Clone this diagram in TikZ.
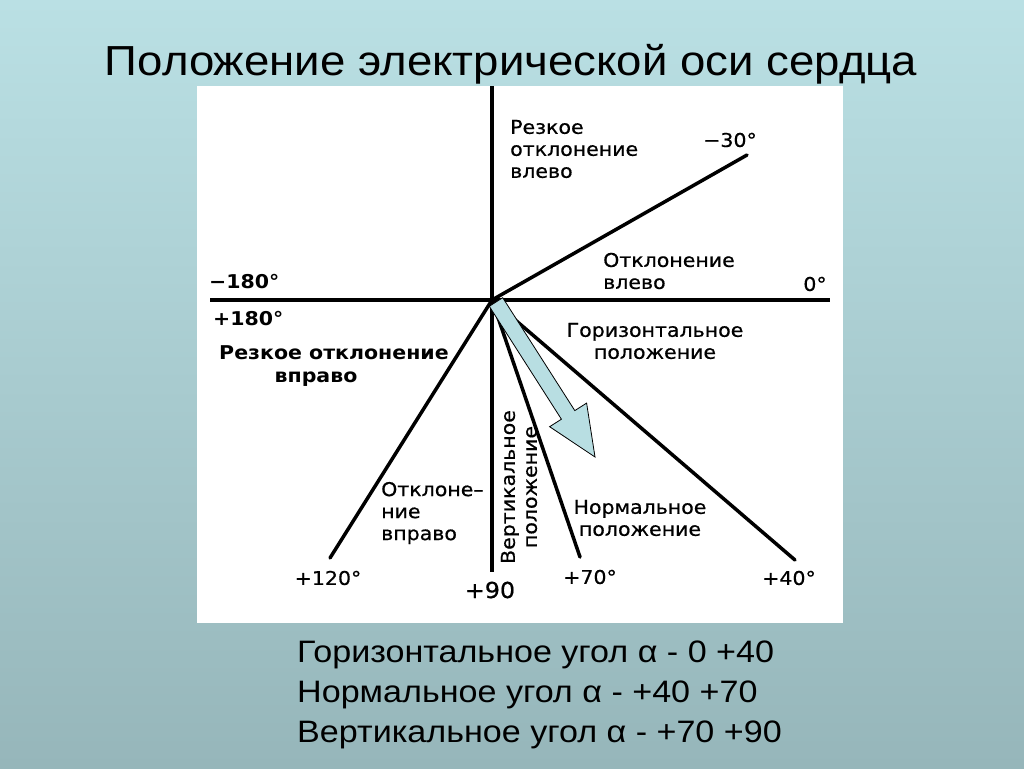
\documentclass[tikz,border=0pt]{standalone}
\usepackage{fontspec}
\setmainfont{Liberation Sans}
\newfontfamily\labfont[FakeStretch=1.08,FakeBold=0.6]{DejaVu Sans}
\newfontfamily\labboldfont[FakeStretch=1.08]{DejaVu Sans Bold}
\newfontfamily\titlefont[FakeStretch=1.085]{Liberation Sans}
\newfontfamily\bottomfont[FakeStretch=1.1]{Liberation Sans}
\definecolor{bgtop}{RGB}{186,224,228}
\definecolor{bgbot}{RGB}{150,182,186}
\definecolor{arrowfill}{RGB}{184,222,226}
\begin{document}
\begin{tikzpicture}[x=1pt,y=-1pt,
  axis/.style={line width=4pt},
  ray/.style={line width=3.5pt,line cap=round},
  lab/.style={inner sep=0pt,font=\labfont\fontsize{19}{22}\selectfont},
  labb/.style={inner sep=0pt,font=\labboldfont\fontsize{19}{23}\selectfont},
  num/.style={inner sep=0pt,font=\labfont\fontsize{19}{22}\selectfont},
  bignum/.style={inner sep=0pt,font=\labboldfont\fontsize{19}{22}\selectfont},
  bottomline/.style={inner sep=0pt,anchor=base west,font=\bottomfont\fontsize{31}{36}\selectfont}]
\useasboundingbox (0,0) rectangle (1024,768);
\shade[top color=bgtop,bottom color=bgbot] (0,0) rectangle (1024,768);
\fill[white] (197,86) rectangle (843,623);
\node[inner sep=0pt,anchor=base,font=\titlefont\fontsize{42}{48}\selectfont] (title) at (511,75) {Положение электрической оси сердца};
% axes
\coordinate (O) at (492,300);
\coordinate (xL) at (210,300);
\coordinate (xR) at (830,300);
\coordinate (yT) at (492,86);
\coordinate (yB) at (492,572);
\coordinate (e30) at (747,155);
\coordinate (e120) at (330,558);
\coordinate (e70) at (580,557);
\coordinate (e40) at (795,560);
\draw[axis] (xL) -- (xR);
\draw[axis] (yT) -- (yB);
\draw[ray] (O) -- (e30);
\draw[ray] (O) -- (e120);
\draw[ray] (O) -- (e70);
\draw[ray] (O) -- (e40);
% big arrow
\draw[fill=arrowfill,line width=0.8pt,line join=miter]
  (489.3,306.3) -- (561.4,419.2) -- (549.6,426.7) -- (595,457)
  -- (586.6,403.1) -- (574.8,410.6) -- (502.7,297.7) -- cycle;
% labels
\node[lab,anchor=west,align=left] (rl) at (510,149) {Резкое\\отклонение\\влево};
\node[num] (m30) at (730,140) {−30°};
\node[lab,anchor=west,align=left] (ol) at (603,271) {Отклонение\\влево};
\node[num] (z0) at (815,284) {0°};
\node[bignum,anchor=west] (m180) at (209,282) {−180°};
\node[bignum,anchor=west] (p180) at (213,319) {+180°};
\node[labb,align=center] (rr) at (334,366) {Резкое отклонение\\вправо\hspace*{36pt}};
\node[lab,anchor=west,align=left] (or) at (381,513) {Отклоне–\\ние\\вправо};
\node[num] (p120) at (328,578) {+120°};
\node[num,font=\labfont\fontsize{22}{24}\selectfont] (p90) at (490,590) {+90};
\node[lab,rotate=90,align=center] (vp) at (519,487) {Вертикальное\\положение};
\node[num] (p70) at (590,577) {+70°};
\node[num] (p40) at (789,578) {+40°};
\node[lab,align=center] (hp) at (655,341) {Горизонтальное\\положение};
\node[lab,align=center] (np) at (640,518) {Нормальное\\положение};
% bottom text
\node[bottomline] (bt1) at (297,662) {Горизонтальное угол α - 0 +40};
\node[bottomline] (bt2) at (297,702) {Нормальное угол α - +40 +70};
\node[bottomline] (bt3) at (297,742) {Вертикальное угол α - +70 +90};
\end{tikzpicture}
\end{document}
